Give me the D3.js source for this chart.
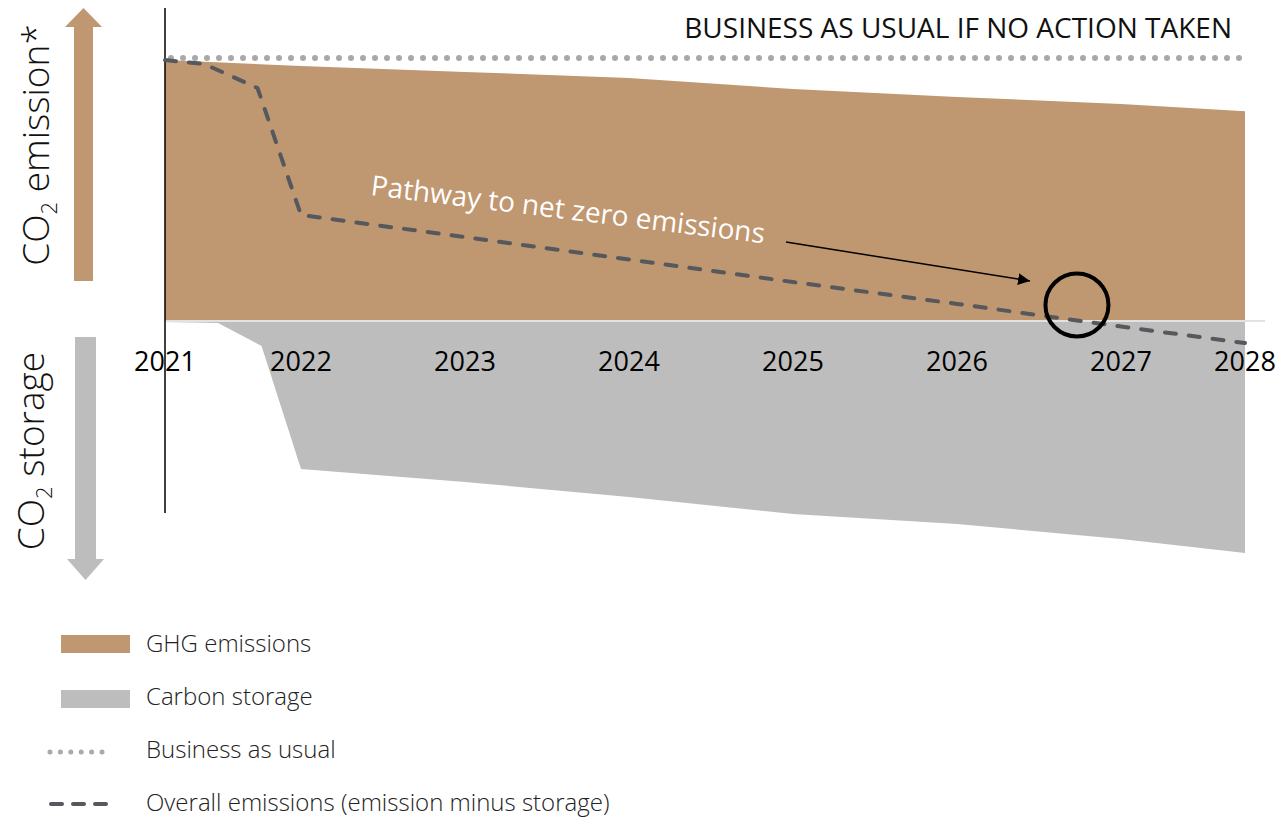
<!DOCTYPE html>
<html>
<head>
<meta charset="utf-8">
<script src="https://cdn.jsdelivr.net/npm/d3@7"></script>
<style>
  html, body { margin: 0; padding: 0; background: #fff; }
  svg { display: block; font-family: "Open Sans", sans-serif; font-weight: 300; }
</style>
</head>
<body>
<svg id="chart" width="1279" height="819"></svg>
<script>
// Year ticks shown on the horizontal axis
const years = [2021, 2022, 2023, 2024, 2025, 2026, 2027, 2028];
// Gross greenhouse-gas emissions (index, business as usual = 100)
const ghg = [99.2, 97.0, 94.7, 92.4, 88.2, 85.2, 82.5, 79.8];
// Carbon storage ramps up sharply during the first year
const storageYears = [2021, 2021.39, 2021.71, 2022, 2023, 2024, 2025, 2026, 2027, 2028];
const storage = [0.4, 0.8, 9.5, 56.3, 61.2, 66.9, 73.4, 77.2, 82.9, 88.2];
// Overall emissions (emission minus storage)
const netYears = [2021, 2021.29, 2021.68, 2022, 2023, 2024, 2025, 2026, 2027, 2028];
const net = [99.2, 97.7, 88.6, 40.3, 31.9, 23.4, 14.8, 6.5, -2.1, -8.4];
// Business as usual level
const bau = 100;

const legendItems = ["GHG emissions", "Carbon storage", "Business as usual", "Overall emissions (emission minus storage)"];

const TAN = "#bf9770", GREY = "#bdbdbd", DOT = "#a9a9a9", DASH = "#55585c";

const svg = d3.select("#chart");

const x = d3.scaleLinear().domain([2021, 2022, 2027, 2028]).range([165, 301, 1121, 1245]);
const y = d3.scaleLinear().domain([0, 100]).range([321, 58]);

const ghgData = years.map((yr, i) => ({ yr, v: ghg[i] }));
const storageData = storageYears.map((yr, i) => ({ yr, v: storage[i] }));
const netData = netYears.map((yr, i) => ({ yr, v: net[i] }));

// Emission area above zero
svg.append("path")
  .datum(ghgData)
  .attr("fill", TAN)
  .attr("d", d3.area().x(d => x(d.yr)).y0(y(0)).y1(d => y(d.v)));

// Storage area below zero
svg.append("path")
  .datum(storageData)
  .attr("fill", GREY)
  .attr("d", d3.area().x(d => x(d.yr)).y0(y(0) + 1).y1(d => y(-d.v)));

// Zero line
svg.append("line")
  .attr("x1", x(2021)).attr("x2", x(2028) + 20)
  .attr("y1", y(0)).attr("y2", y(0))
  .attr("stroke", "#e2e2e2").attr("stroke-width", 2);

// Vertical axis line
svg.append("line")
  .attr("x1", x(2021)).attr("x2", x(2021))
  .attr("y1", 8).attr("y2", 513)
  .attr("stroke", "#000").attr("stroke-width", 1.5);

// Business as usual dotted line
svg.append("line")
  .attr("x1", x(2021) + 6).attr("x2", x(2028))
  .attr("y1", y(bau)).attr("y2", y(bau))
  .attr("stroke", DOT).attr("stroke-width", 6)
  .attr("stroke-linecap", "round")
  .attr("stroke-dasharray", "0 12");

svg.append("text")
  .attr("x", 1232).attr("y", 38)
  .attr("text-anchor", "end")
  .attr("font-size", 28).attr("font-weight", 400).attr("fill", "#111")
  .text("BUSINESS AS USUAL IF NO ACTION TAKEN");

// Overall emissions dashed line
svg.append("path")
  .datum(netData)
  .attr("fill", "none")
  .attr("stroke", DASH).attr("stroke-width", 4)
  .attr("stroke-linecap", "round").attr("stroke-linejoin", "round")
  .attr("stroke-dasharray", "11 13")
  .attr("d", d3.line().x(d => x(d.yr)).y(d => y(d.v)));

// Year labels
svg.append("g").selectAll("text")
  .data(years)
  .join("text")
  .attr("x", d => x(d)).attr("y", 371)
  .attr("text-anchor", "middle")
  .attr("font-size", 27).attr("font-weight", 400).attr("fill", "#000")
  .text(d => d);

// Net-zero crossing marker
const k = net.findIndex(v => v < 0);
const t = net[k - 1] / (net[k - 1] - net[k]);
const crossYear = netYears[k - 1] + t * (netYears[k] - netYears[k - 1]);
svg.append("circle")
  .attr("cx", x(crossYear) - 4).attr("cy", y(0) - 16).attr("r", 31.5)
  .attr("fill", "none").attr("stroke", "#000").attr("stroke-width", 4);

// Annotation
svg.append("text")
  .attr("transform", "translate(370,195) rotate(7)")
  .attr("font-size", 28).attr("font-weight", 400).attr("fill", "#fff")
  .text("Pathway to net zero emissions");

svg.append("defs").append("marker")
  .attr("id", "head").attr("viewBox", "0 0 10 10")
  .attr("refX", 10).attr("refY", 5)
  .attr("markerWidth", 12).attr("markerHeight", 12)
  .attr("markerUnits", "userSpaceOnUse")
  .attr("orient", "auto")
  .append("path").attr("d", "M0,0 L10,5 L0,10 Z").attr("fill", "#000");

svg.append("line")
  .attr("x1", 786).attr("y1", 242).attr("x2", 1030).attr("y2", 281)
  .attr("stroke", "#000").attr("stroke-width", 1.5)
  .attr("marker-end", "url(#head)");

// Direction arrows on the left
svg.append("path")
  .attr("d", "M74,281 L74,27 L65,27 L83.5,8 L102,27 L93,27 L93,281 Z")
  .attr("fill", TAN);
svg.append("path")
  .attr("d", "M75,337 L96,337 L96,559 L104,559 L85.5,580 L67,559 L75,559 Z")
  .attr("fill", GREY);

function rotatedLabel(cx, cy, main, rest) {
  const tx = svg.append("text")
    .attr("transform", `translate(${cx},${cy}) rotate(-90)`)
    .attr("text-anchor", "middle")
    .attr("font-size", 37).attr("fill", "#111");
  tx.append("tspan").text(main);
  tx.append("tspan").attr("font-size", 22).attr("dy", 8).text("2");
  tx.append("tspan").attr("dy", -8).text(rest);
}
rotatedLabel(49, 145, "CO", " emission*");
rotatedLabel(44, 451, "CO", " storage");

// Legend
const lg = svg.append("g");
lg.append("rect").attr("x", 61).attr("y", 635).attr("width", 69).attr("height", 18).attr("fill", TAN);
lg.append("rect").attr("x", 61).attr("y", 690).attr("width", 69).attr("height", 18).attr("fill", GREY);
lg.append("line").attr("x1", 50).attr("x2", 102).attr("y1", 752).attr("y2", 752)
  .attr("stroke", DOT).attr("stroke-width", 5).attr("stroke-linecap", "round").attr("stroke-dasharray", "0 10.4");
lg.append("line").attr("x1", 51).attr("x2", 107).attr("y1", 804).attr("y2", 804)
  .attr("stroke", DASH).attr("stroke-width", 4).attr("stroke-linecap", "round").attr("stroke-dasharray", "11 11");
lg.selectAll("text.item")
  .data(legendItems)
  .join("text")
  .attr("class", "item")
  .attr("x", 146).attr("y", (d, i) => 652 + i * 53)
  .attr("font-size", 24).attr("fill", "#222")
  .text(d => d);
</script>
</body>
</html>
